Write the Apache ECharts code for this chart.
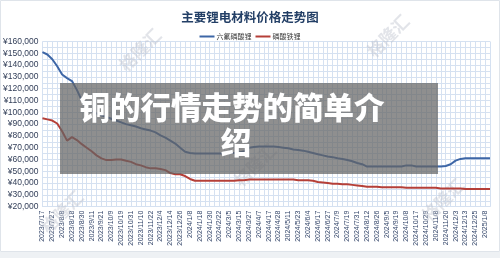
<!DOCTYPE html>
<html>
<head>
<meta charset="utf-8">
<script src="https://cdn.jsdelivr.net/npm/echarts@6/dist/echarts.min.js"></script>
<style>
  html, body { margin: 0; padding: 0; background: #fff; }
  #price-echart { width: 500px; height: 258px; }
</style>
</head>
<body>
<div id="price-echart"></div>
<script>
// tick labels on the x axis (one every other data point)
const dateLabels = [
  '2023/7/17', '2023/7/27', '2023/8/8', '2023/8/18', '2023/8/30', '2023/9/11', '2023/9/21',
  '2023/10/9', '2023/10/19', '2023/10/31', '2023/11/10', '2023/11/22', '2023/12/4',
  '2023/12/14', '2023/12/26', '2024/1/8', '2024/1/18', '2024/1/30', '2024/2/22', '2024/3/5',
  '2024/3/15', '2024/3/27', '2024/4/7', '2024/4/17', '2024/4/28', '2024/5/11', '2024/5/23',
  '2024/6/4', '2024/6/17', '2024/6/27', '2024/7/9', '2024/7/19', '2024/7/31', '2024/8/12',
  '2024/8/26', '2024/9/5', '2024/9/19', '2024/10/8', '2024/10/17', '2024/10/29', '2024/11/8',
  '2024/11/20', '2024/12/3', '2024/12/13', '2024/12/25', '2025/1/8'
];

const seriesNames = ['六氟磷酸锂', '磷酸铁锂'];

// 六氟磷酸锂 (yuan / ton)
const lipf6 = [
  151000, 149000, 145000, 139000, 132000, 129000, 126500, 119000, 110000, 104000,
  101000, 99000, 97500, 96000, 94500, 93000, 91500, 90000, 89000, 88000,
  86500, 85500, 84500, 83000, 80500, 78500, 76000, 73500, 70000, 66500,
  65500, 65000, 65000, 65000, 65000, 65000, 65000, 65000, 65500, 65500,
  66000, 67000, 70000, 70500, 71000, 71000, 71000, 71000, 70500, 70000,
  69500, 68500, 68000, 67500, 66500, 65500, 64500, 63500, 62500, 62000,
  61000, 60500, 59500, 58500, 57000, 56000, 54000, 54000, 54000, 54000,
  54000, 54000, 54000, 54000, 55000, 55000, 54000, 54000, 54000, 54000,
  54000, 54000, 54500, 56000, 59000, 60500, 61000, 61000, 61000, 61000,
  61000, 61000
];

// 磷酸铁锂
const lfp = [
  95000, 94000, 93000, 90500, 84000, 76000, 79000, 76500, 73000, 70000,
  67000, 63500, 61000, 59500, 59500, 60000, 60000, 59000, 58000, 56000,
  55000, 53500, 52500, 52500, 52000, 51000, 48500, 47500, 47500, 46000,
  43500, 42000, 42000, 42000, 42000, 42000, 42000, 42000, 42000, 42000,
  42500, 42500, 43000, 43000, 43000, 43000, 43000, 43000, 43000, 43000,
  43000, 43000, 42500, 42500, 42500, 42000, 41000, 40500, 40000, 39500,
  39500, 39000, 39000, 38500, 38000, 37500, 37000, 37000, 37000, 36500,
  36500, 36500, 36500, 36500, 36000, 36000, 36000, 36000, 36000, 36000,
  36000, 35500, 35500, 35500, 35500, 35500, 35000, 35000, 35000, 35000,
  35000, 35000
];

const yTicks = { min: 20000, max: 160000, step: 10000 };

function makePriceEchart () {
  const myEchart = echarts.init(document.getElementById('price-echart'));

  // one category per data point, only every other one gets a date label
  const categories = [];
  dateLabels.forEach(function (d) {
    categories.push(d);
    categories.push('');
  });

  const gridColor = '#d5e1f1';
  const markStyle = {
    text: '格隆汇',
    fontSize: 17,
    fontWeight: 'bold',
    fontFamily: 'Noto Sans CJK SC',
    fill: 'rgba(190,196,206,0.45)',
    textAlign: 'center',
    textVerticalAlign: 'middle'
  };

  const option = {
    backgroundColor: '#ffffff',
    animation: false,
    title: {
      text: '主要锂电材料价格走势图',
      left: 'center',
      top: 6,
      textStyle: {
        fontFamily: 'Noto Sans CJK SC',
        fontSize: 12.5,
        fontWeight: 'bold',
        color: '#233f66'
      }
    },
    legend: {
      top: 28,
      left: 'center',
      itemWidth: 15,
      itemHeight: 2,
      itemGap: 4,
      icon: 'rect',
      textStyle: {
        fontFamily: 'Noto Sans CJK SC',
        fontSize: 7,
        color: '#3a3a3a',
        padding: [0, 0, 0, -3]
      },
      data: seriesNames
    },
    grid: {
      left: 41,
      right: 10,
      top: 41.5,
      bottom: 51.3
    },
    xAxis: {
      type: 'category',
      boundaryGap: false,
      data: categories,
      axisLine: { show: true, lineStyle: { color: gridColor } },
      axisTick: { show: false },
      axisLabel: {
        interval: 0,
        rotate: 90,
        margin: 4,
        fontFamily: 'Liberation Sans',
        fontSize: 7,
        color: '#34466a'
      },
      splitLine: {
        show: true,
        interval: 0,
        lineStyle: { color: gridColor, width: 1 }
      }
    },
    yAxis: {
      type: 'value',
      min: yTicks.min,
      max: yTicks.max,
      interval: yTicks.step,
      axisLine: { show: false },
      axisTick: { show: false },
      axisLabel: {
        margin: 4,
        fontFamily: 'Liberation Sans',
        fontSize: 8.5,
        color: '#34405a',
        formatter: function (value) {
          return '¥' + value.toLocaleString('en-US');
        }
      },
      splitLine: { lineStyle: { color: gridColor, width: 1 } },
      minorTick: { show: false, splitNumber: 2 },
      minorSplitLine: { show: true, lineStyle: { color: gridColor, width: 1 } }
    },
    color: ['#3d66a6', '#b53f38'],
    series: [
      {
        name: seriesNames[0],
        type: 'line',
        data: lipf6,
        symbol: 'none',
        lineStyle: { width: 2 }
      },
      {
        name: seriesNames[1],
        type: 'line',
        data: lfp,
        symbol: 'none',
        lineStyle: { width: 2 }
      }
    ],
    graphic: [
      // faint watermarks
      { type: 'text', x: 140, y: 50, rotation: Math.PI / 4, z: 1, style: markStyle },
      { type: 'text', x: 388, y: 36, rotation: Math.PI / 4, z: 1, style: markStyle },
      { type: 'text', x: 62, y: 212, rotation: Math.PI / 4, z: 1, style: markStyle },
      { type: 'text', x: 255, y: 165, rotation: Math.PI / 4, z: 1, style: markStyle },
      { type: 'text', x: 443, y: 200, rotation: Math.PI / 4, z: 1, style: markStyle },
      // frame
      { type: 'rect', shape: { x: 0.5, y: 0.5, width: 499, height: 251 }, z: 1, style: { fill: 'none', stroke: '#dfe4ea', lineWidth: 1 } },
      { type: 'rect', shape: { x: 0, y: 252, width: 500, height: 6 }, z: 1, style: { fill: '#eef1f4' } },
      // grey overlay with the article title
      { type: 'rect', shape: { x: 60, y: 83, width: 378, height: 91 }, z: 100, style: { fill: 'rgba(100,100,100,0.72)' } },
      { type: 'text', x: 232, y: 107, z: 101, style: { text: '铜的行情走势的简单介', fontSize: 30.5, fontWeight: 900, fontFamily: 'Noto Sans CJK SC', fill: '#ffffff', textAlign: 'center', textVerticalAlign: 'middle' } },
      { type: 'text', x: 236, y: 142, z: 101, style: { text: '绍', fontSize: 30.5, fontWeight: 900, fontFamily: 'Noto Sans CJK SC', fill: '#ffffff', textAlign: 'center', textVerticalAlign: 'middle' } }
    ]
  };

  myEchart.setOption(option);
}

makePriceEchart();
</script>
</body>
</html>
